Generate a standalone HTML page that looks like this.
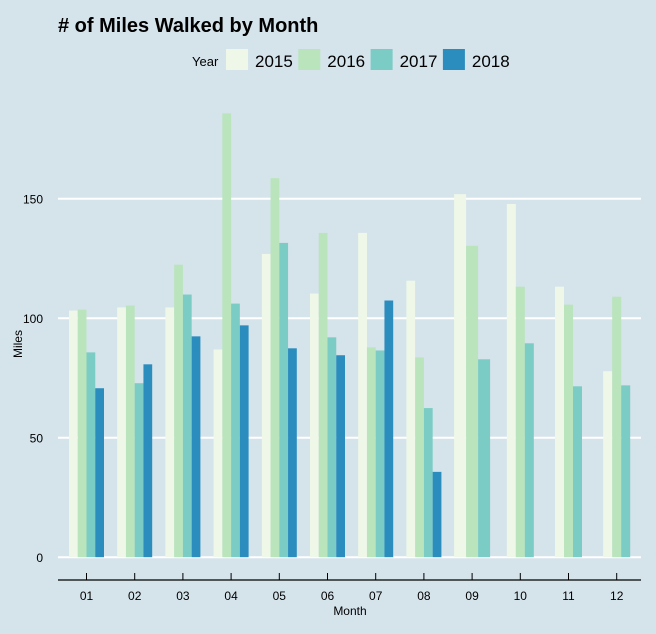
<!DOCTYPE html>
<html><head><meta charset="utf-8"><style>
body{margin:0;background:#d5e3eb;font-family:"Liberation Sans",Arial,sans-serif;}
svg{display:block}
</style></head><body>
<svg id="chart" width="656" height="634" viewBox="0 0 656 634">
<rect width="656" height="634" fill="#d5e3eb"/>
<text x="58" y="32" font-size="20" font-weight="bold" fill="#000"># of Miles Walked by Month</text>
<g id="legend"></g>
<g id="grid"></g>
<g id="bars"></g>
<g id="axes"></g>
<text x="22" y="344" font-size="12" fill="#000" text-anchor="middle" transform="rotate(-90 22 344)">Miles</text>
<text x="350" y="615" font-size="12" fill="#000" text-anchor="middle">Month</text>
</svg>
<script>
const months = ["01","02","03","04","05","06","07","08","09","10","11","12"];
const years = ["2015","2016","2017","2018"];
const colors = ["#eff8e8","#bae4bc","#7bccc4","#2b8cbe"];
const v2015 = [103.2,104.5,104.5,86.9,126.9,110.3,135.7,115.7,151.9,147.8,113.2,77.8];
const v2016 = [103.6,105.3,122.4,185.7,158.6,135.7,87.8,83.6,130.3,113.2,105.7,109.0];
const v2017 = [85.7,72.8,109.9,106.1,131.5,92.0,86.5,62.4,82.8,89.5,71.5,71.9];
const v2018 = [70.7,80.7,92.4,97.0,87.4,84.5,107.4,35.7,null,null,null,null];
const yTicks = [0,50,100,150];
const series = [v2015,v2016,v2017,v2018];
const NS="http://www.w3.org/2000/svg";
function mk(tag,attrs,parent){const e=document.createElementNS(NS,tag);for(const k in attrs)e.setAttribute(k,attrs[k]);parent.appendChild(e);return e;}
const y0=557.2, ppu=2.39;
function yScale(v){return y0-v*ppu;}
function xScale(i){return 86.5+i*48.2;}
const grid=document.getElementById('grid'),bars=document.getElementById('bars'),axes=document.getElementById('axes'),legend=document.getElementById('legend');
yTicks.forEach(t=>{
  const l=mk('line',{x1:58,x2:641,y1:yScale(t),y2:yScale(t),stroke:'#fff','stroke-width':2},grid);
  
  
  const tx=mk('text',{x:43,y:yScale(t)+5,'font-size':12,'text-anchor':'end',fill:'#000'},axes);
  tx.textContent=t;
  
  
});
mk('line',{x1:58,x2:641,y1:580,y2:580,stroke:'#000','stroke-width':1.3},axes);
months.forEach((m,i)=>{
  const present=series.map((s,j)=>j).filter(j=>series[j][i]!=null);
  const n=present.length;
  const gw = n===4 ? 35 : (m==="09" ? 36 : 27);
  const bw=gw/n, cx=xScale(i);
  present.forEach((j,k)=>{
    const v=series[j][i];
    const r=mk('rect',{x:cx-gw/2+k*bw,y:yScale(v),width:bw,height:v*ppu,fill:colors[j]},bars);
    
    
  });
  mk('line',{x1:cx,x2:cx,y1:573,y2:580,stroke:'#000','stroke-width':1},axes);
  const t=mk('text',{x:cx,y:600,'font-size':12,'text-anchor':'middle',fill:'#000'},axes);
  t.textContent=m;
  
  
});
const lt=mk('text',{x:192,y:66,'font-size':13,fill:'#000'},legend);
lt.textContent='Year';


years.forEach((y,j)=>{
  const kx=226+j*72.3;
  const r=mk('rect',{x:kx,y:49,width:22,height:21,fill:colors[j]},legend);
  
  
  const t=mk('text',{x:kx+29,y:67,'font-size':17,fill:'#000'},legend);
  t.textContent=y;
  
  
});
</script>
</body></html>
